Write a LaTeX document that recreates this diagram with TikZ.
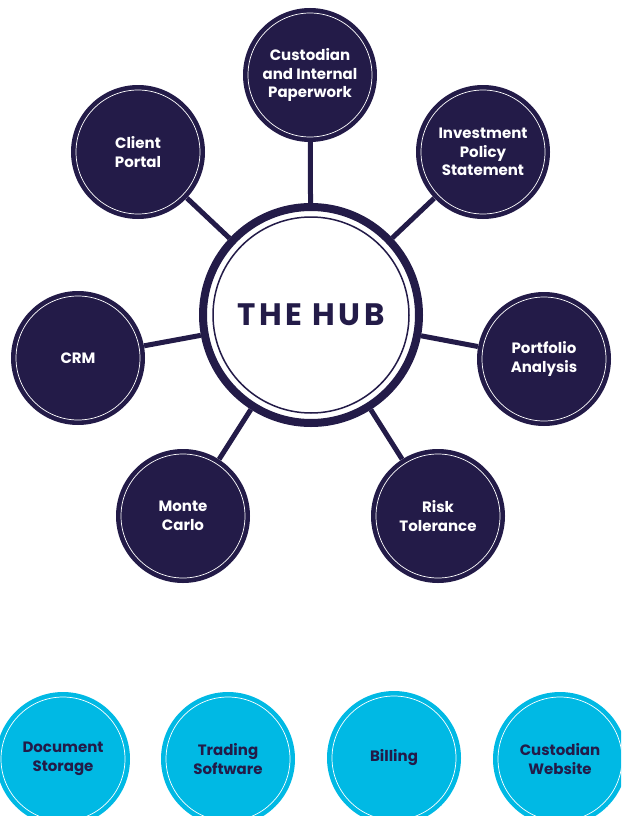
\documentclass[tikz,border=0pt]{standalone}
\usepackage{fontspec}
\setmainfont{Poppins}
\definecolor{navy}{RGB}{35,27,72}
\definecolor{sky}{RGB}{0,185,228}

\begin{document}
\begin{tikzpicture}[x=1pt,y=-1pt,
  tool/.style={circle,fill=navy,minimum size=134pt,inner sep=0pt,text=white,align=center,
    font=\bfseries\fontsize{15}{18.5}\selectfont,
    path picture={\draw[white,line width=0.7pt] (path picture bounding box.center) circle (62pt);}},
  extra/.style={tool,fill=sky,text=navy},
  hub/.style={circle,fill=white,draw=navy,line width=8pt,minimum size=216pt,inner sep=0pt,text=navy,
    font=\bfseries\fontsize{31}{36}\selectfont\addfontfeatures{LetterSpace=12},
    path picture={\draw[navy,line width=1.5pt] (path picture bounding box.center) circle (98pt);}},
  spoke/.style={draw=navy,line width=5pt}]
      \useasboundingbox (0,0) rectangle (621,816);
      \clip (0,0) rectangle (621,816);

      \node[hub]  (hub)       at (311, 315) {THE HUB};
      \node[tool] (custodian) at (310, 75)  {Custodian\\and Internal\\Paperwork};
      \node[tool] (portal)    at (138, 152) {Client\\Portal};
      \node[tool] (ips)       at (483, 152) {Investment\\Policy\\Statement};
      \node[tool] (crm)       at (78, 358)  {CRM};
      \node[tool] (portfolio) at (544, 359) {Portfolio\\Analysis};
      \node[tool] (monte)     at (183, 516) {Monte\\Carlo};
      \node[tool] (risk)      at (438, 516) {Risk\\Tolerance};

      % spokes
      \foreach \s in {custodian,portal,ips,crm,portfolio,monte,risk}
        \path[spoke] (hub) -- (\s);

      % not linked yet
      \node[extra] (docs)    at (63, 759)  {Document\\Storage};
      \node[extra] (trading) at (228, 759) {Trading\\Software};
      \node[extra] (billing) at (394, 758) {Billing};
      \node[extra] (website) at (560, 759) {Custodian\\Website};
\end{tikzpicture}
\end{document}
